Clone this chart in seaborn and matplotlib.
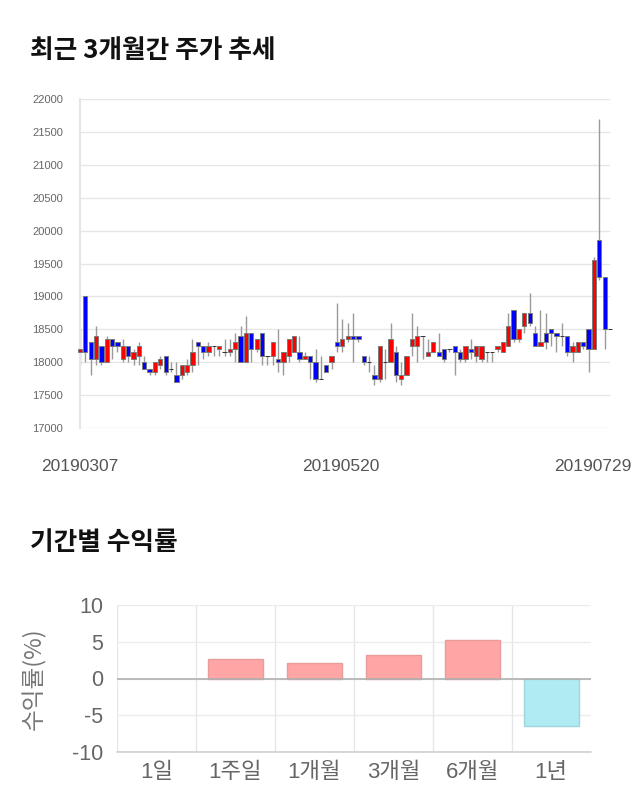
import numpy as np
import pandas as pd
import matplotlib
matplotlib.use("Agg")
import matplotlib.pyplot as plt
import matplotlib.transforms as mtransforms
import seaborn as sns

# ---------------- data ----------------
dates = ["20190307", "20190520", "20190729"]
date_idx = [0, 50, 99]

opens = [18150, 19000, 18300, 18050, 18250, 18000, 18350, 18300, 18050, 18250,
         18050, 18100, 18000, 17900, 17850, 17950, 18100, 17900, 17800, 17800,
         17850, 17950, 18300, 18250, 18150, 18250, 18200, 18150, 18150, 18200,
         18400, 18000, 18450, 18200, 18450, 18100, 18100, 18050, 18000, 18100,
         18150, 18150, 18050, 18100, 18000, 17750, 17950, 18000, 18300, 18250,
         18350, 18400, 18400, 18100, 18000, 17800, 17750, 18000, 18000, 18150,
         17750, 17800, 18250, 18250, 18400, 18100, 18150, 18150, 18200, 18200,
         18250, 18150, 18050, 18200, 18100, 18050, 18150, 18150, 18200, 18150,
         18250, 18800, 18350, 18550, 18750, 18450, 18250, 18450, 18500, 18450,
         18400, 18400, 18150, 18150, 18300, 18500, 18200, 19850, 19300, 18500]
highs = [18500, 19000, 18300, 18550, 18250, 18400, 18350, 18300, 18350, 18250,
         18200, 18300, 18100, 17900, 18000, 18100, 18100, 18000, 18000, 17950,
         18050, 18350, 18300, 18250, 18300, 18250, 18250, 18350, 18350, 18450,
         18550, 18700, 18450, 18350, 18450, 18100, 18300, 18500, 18150, 18350,
         18400, 18400, 18150, 18100, 18200, 18100, 17950, 18100, 18900, 18650,
         18600, 18750, 18400, 18100, 18100, 17950, 18250, 18200, 18600, 18250,
         18000, 18100, 18750, 18550, 18400, 18350, 18300, 18450, 18200, 18200,
         18250, 18200, 18250, 18350, 18250, 18250, 18150, 18150, 18250, 18300,
         18750, 18800, 18500, 18750, 19050, 18550, 18800, 18750, 18500, 18450,
         18600, 18400, 18300, 18300, 18300, 18500, 19600, 21700, 19300, 18500]
lows = [17950, 18000, 17800, 17950, 17950, 18000, 18050, 18150, 18000, 18000,
        17950, 17950, 17900, 17800, 17800, 17900, 17800, 17850, 17700, 17750,
        17800, 17850, 17950, 18050, 18100, 18100, 18100, 18100, 18100, 18000,
        18000, 18000, 18000, 18150, 17950, 17950, 17950, 17850, 17800, 18000,
        18150, 18000, 18050, 17750, 17700, 17750, 17850, 17900, 18150, 18150,
        18300, 18000, 18300, 17950, 17850, 17650, 17700, 17750, 18000, 17700,
        17650, 17800, 18100, 18000, 18050, 18100, 18150, 18100, 18000, 18150,
        17800, 18000, 18000, 18050, 18000, 18000, 18000, 18000, 18150, 18150,
        18250, 18300, 18300, 18450, 18550, 18250, 18250, 18200, 18250, 18150,
        18250, 18100, 18000, 18150, 18200, 17850, 18200, 19250, 18200, 18500]
closes = [18200, 18150, 18050, 18400, 18000, 18350, 18250, 18250, 18250, 18100,
          18150, 18250, 17900, 17850, 18000, 18050, 17850, 17900, 17700, 17950,
          17950, 18150, 18250, 18150, 18250, 18250, 18250, 18150, 18200, 18300,
          18000, 18450, 18200, 18350, 18100, 18100, 18300, 18000, 18150, 18350,
          18400, 18050, 18100, 18000, 17750, 17750, 17850, 18100, 18250, 18350,
          18400, 18350, 18350, 18000, 18000, 17750, 18250, 18000, 18350, 17800,
          17800, 18100, 18350, 18400, 18400, 18150, 18300, 18100, 18050, 18200,
          18150, 18050, 18250, 18150, 18250, 18250, 18150, 18150, 18250, 18300,
          18550, 18350, 18500, 18750, 18600, 18250, 18300, 18300, 18450, 18400,
          18400, 18150, 18250, 18300, 18250, 18200, 19550, 19300, 18500, 18500]

periods = ["1일", "1주일", "1개월", "3개월", "6개월", "1년"]
returns = [0.0, 2.6, 2.1, 3.2, 5.2, -6.5]

# ---------------- style ----------------
sns.set_style("white")
plt.rcParams["font.family"] = ["Liberation Sans", "Noto Sans CJK KR"]
KR = ["Noto Sans CJK KR", "DejaVu Sans"]

fig = plt.figure(figsize=(6.4, 8.1), dpi=100)

# ---------------- candlestick chart ----------------
W, H = 640.0, 810.0
ax1 = fig.add_axes([80 / W, 1 - 428 / H, 530 / W, 329 / H])

df = pd.DataFrame({"o": opens, "h": highs, "l": lows, "c": closes})
df["i"] = np.arange(len(df))
df["bottom"] = df[["o", "c"]].min(axis=1)
df["height"] = (df["c"] - df["o"]).abs()

def body_color(r):
    if r.c > r.o:
        return "#ff0000"
    if r.c < r.o:
        return "#0000ff"
    return "none"

def edge_color(r):
    return "#7a7a7a" if r.c != r.o else "#333333"

ax1.vlines(df["i"], df["l"], df["h"], color="#9a9a9a", lw=1.0, zorder=2, clip_on=False)
ax1.bar(df["i"], df["height"], bottom=df["bottom"], width=0.8,
        color=[body_color(r) for r in df.itertuples()],
        edgecolor=[edge_color(r) for r in df.itertuples()],
        linewidth=0.7, zorder=3, clip_on=False)

ax1.set_xlim(0, 99)
ax1.set_ylim(17000, 22000)
ax1.set_yticks(np.arange(17000, 22001, 500))
ax1.set_yticklabels([str(v) for v in range(17000, 22001, 500)])
ax1.grid(axis="y", color="#e6e6e6", lw=1.0, zorder=0)
ax1.set_axisbelow(True)
for s in ["top", "right", "bottom"]:
    ax1.spines[s].set_visible(False)
ax1.spines["left"].set_color("#e6e6e6")
ax1.spines["left"].set_linewidth(1.5)
ax1.tick_params(axis="y", length=9, color="#e6e6e6", pad=3, labelsize=8, labelcolor="#666666")
ax1.set_xticks(date_idx)
ax1.set_xticklabels(dates)
ax1.tick_params(axis="x", length=0, pad=22, labelsize=12.5, labelcolor="#555555")
lbls = ax1.get_xticklabels()
off_mid = mtransforms.ScaledTranslation(-7 / 100, 0, fig.dpi_scale_trans)
lbls[1].set_transform(lbls[1].get_transform() + off_mid)
off = mtransforms.ScaledTranslation(-17 / 100, 0, fig.dpi_scale_trans)
lbls[-1].set_transform(lbls[-1].get_transform() + off)

fig.text(30 / W, 1 - 51 / H, "최근 3개월간 주가 추세", family=KR, fontsize=18.5,
         fontweight="bold", va="center", ha="left", color="#111111")

# ---------------- returns bar chart ----------------
ax2 = fig.add_axes([117 / W, 1 - 752 / H, 473.7 / W, 147 / H])
rdf = pd.DataFrame({"period": periods, "ret": returns})
bar_colors = ["#ffa5a5" if v >= 0 else "#b0ebf3" for v in returns]
sns.barplot(data=rdf, x="period", y="ret", hue="period", palette=bar_colors,
            legend=False, width=0.7, saturation=1, ax=ax2, zorder=3)
for p, v in zip(ax2.patches, returns):
    if v > 0:
        p.set_edgecolor("#e89c9c")
    elif v < 0:
        p.set_edgecolor("#9fd6de")
    else:
        p.set_edgecolor("none")
    p.set_linewidth(1.0)

ax2.set_xlim(-0.5, 5.5)
ax2.set_ylim(-10, 10)
ax2.set_yticks([-10, -5, 0, 5, 10])
ax2.set_yticklabels(["-10", "-5", "0", "5", "10"])
ax2.set_xticks(np.arange(-0.5, 5.0, 1.0), minor=True)
ax2.grid(axis="y", which="major", color="#ececec", lw=1.0, zorder=0)
ax2.grid(axis="x", which="minor", color="#e6e6e6", lw=1.0, zorder=0)
ax2.grid(axis="x", which="major", visible=False)
ax2.axhline(0, color="#b0b0b0", lw=1.2, zorder=4)
ax2.axhline(-10, color="#cfcfcf", lw=1.2, zorder=4, clip_on=False)
for s in ["top", "right", "left", "bottom"]:
    ax2.spines[s].set_visible(False)
ax2.tick_params(axis="y", length=9, color="#ececec", pad=1, labelsize=15.5, labelcolor="#666666")
ax2.tick_params(axis="x", which="minor", length=10, color="#e6e6e6")
ax2.tick_params(axis="x", which="major", length=0, pad=7, labelsize=16, labelcolor="#666666")
for t in ax2.get_xticklabels():
    t.set_family(["Liberation Sans", "Noto Sans CJK KR"])
ax2.set_xlabel("")
ax2.set_ylabel("수익률(%)", family=KR, fontsize=17, color="#777777", labelpad=8)
ax2.yaxis.set_label_coords(-(117 - 46) / 473.7, 0.5)

fig.text(30 / W, 1 - 543 / H, "기간별 수익률", family=KR, fontsize=18.5,
         fontweight="bold", va="center", ha="left", color="#111111")

fig.savefig("out.png", dpi=100)
